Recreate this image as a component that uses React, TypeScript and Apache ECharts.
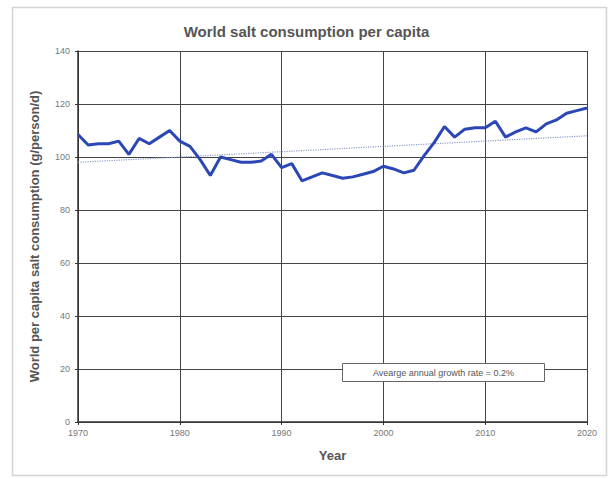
import React, { useEffect, useRef } from "react";
import * as echarts from "echarts";

const years: number[] = [
  1970, 1971, 1972, 1973, 1974, 1975, 1976, 1977, 1978, 1979,
  1980, 1981, 1982, 1983, 1984, 1985, 1986, 1987, 1988, 1989,
  1990, 1991, 1992, 1993, 1994, 1995, 1996, 1997, 1998, 1999,
  2000, 2001, 2002, 2003, 2004, 2005, 2006, 2007, 2008, 2009,
  2010, 2011, 2012, 2013, 2014, 2015, 2016, 2017, 2018, 2019, 2020,
];
const consumption: number[] = [
  108.5, 104.5, 105, 105, 106, 101, 107, 105, 107.5, 110,
  106, 104, 99, 93, 100, 99, 98, 98, 98.5, 101,
  96, 97.5, 91, 92.5, 94, 93, 92, 92.5, 93.5, 94.5,
  96.5, 95.5, 94, 95, 100.5, 105.5, 111.5, 107.5, 110.5, 111,
  111, 113.5, 107.5, 109.5, 111, 109.5, 112.5, 114, 116.5, 117.5, 118.5,
];
const trendYears: number[] = [1970, 2020];
const trendValues: number[] = [98, 108];

const title = "World salt consumption per capita";
const xName = "Year";
const yName = "World per capita salt consumption (g/person/d)";
const note = "Avearge annual growth rate = 0.2%";

export default function App() {
  const ref = useRef<HTMLDivElement>(null);
  useEffect(() => {
    document.body.style.margin = "0";
    if (!ref.current) return;
    const chart = echarts.init(ref.current, null, { renderer: "svg" });
    const font = "Liberation Sans, Arial, sans-serif";
    chart.setOption({
      animation: false,
      backgroundColor: "#ffffff",
      textStyle: { fontFamily: font },
      title: {
        text: title,
        left: "center",
        top: 19,
        textStyle: { fontSize: 15, fontWeight: "bold", color: "#555555", fontFamily: font },
      },
      grid: { left: 78, right: 26, top: 51, bottom: 57, containLabel: false },
      xAxis: {
        type: "value",
        min: 1970,
        max: 2020,
        interval: 10,
        name: xName,
        nameLocation: "middle",
        nameGap: 27,
        nameTextStyle: { fontSize: 13, fontWeight: "bold", color: "#555555" },
        axisLine: { show: true, lineStyle: { color: "#333333", width: 1.5 } },
        axisTick: { show: true, length: 3, lineStyle: { color: "#333333" } },
        axisLabel: { fontSize: 9, color: "#777777", margin: 6, formatter: (v: number) => String(v) },
        splitLine: { show: true, lineStyle: { color: "#444444", width: 1 } },
      },
      yAxis: {
        type: "value",
        min: 0,
        max: 140,
        interval: 20,
        name: yName,
        nameLocation: "middle",
        nameGap: 37,
        nameTextStyle: { fontSize: 13, fontWeight: "bold", color: "#555555" },
        axisLine: { show: true, lineStyle: { color: "#333333", width: 1.5 } },
        axisTick: { show: true, length: 3, lineStyle: { color: "#333333" } },
        axisLabel: { fontSize: 9, color: "#777777", margin: 8 },
        splitLine: { show: true, lineStyle: { color: "#444444", width: 1 } },
      },
      series: [
        {
          type: "line",
          data: trendYears.map((y, i) => [y, trendValues[i]]),
          symbol: "none",
          lineStyle: { color: "#8c9cc8", width: 1.2, type: "dotted" },
          z: 2,
        },
        {
          type: "line",
          data: years.map((y, i) => [y, consumption[i]]),
          symbol: "none",
          lineStyle: { color: "#2b46b5", width: 3 },
          z: 3,
        },
      ],
      graphic: [
        {
          type: "rect",
          left: 10,
          top: 5,
          shape: { width: 594, height: 468 },
          style: { fill: "none", stroke: "#d4d4d4", lineWidth: 1.5 },
          silent: true,
        },
        {
          type: "group",
          left: 342,
          top: 363,
          z: 100,
          children: [
            {
              type: "rect",
              z: 100,
              shape: { x: 0, y: 0, width: 202, height: 18 },
              style: { fill: "#ffffff", stroke: "#666666", lineWidth: 1 },
            },
            {
              type: "text",
              z: 101,
              x: 101,
              y: 9,
              style: {
                text: note,
                fontSize: 9,
                fill: "#555555",
                align: "center",
                verticalAlign: "middle",
                fontFamily: font,
              },
            },
          ],
        },
      ],
    });
    return () => chart.dispose();
  }, []);
  return <div ref={ref} style={{ width: 613, height: 479 }} />;
}
